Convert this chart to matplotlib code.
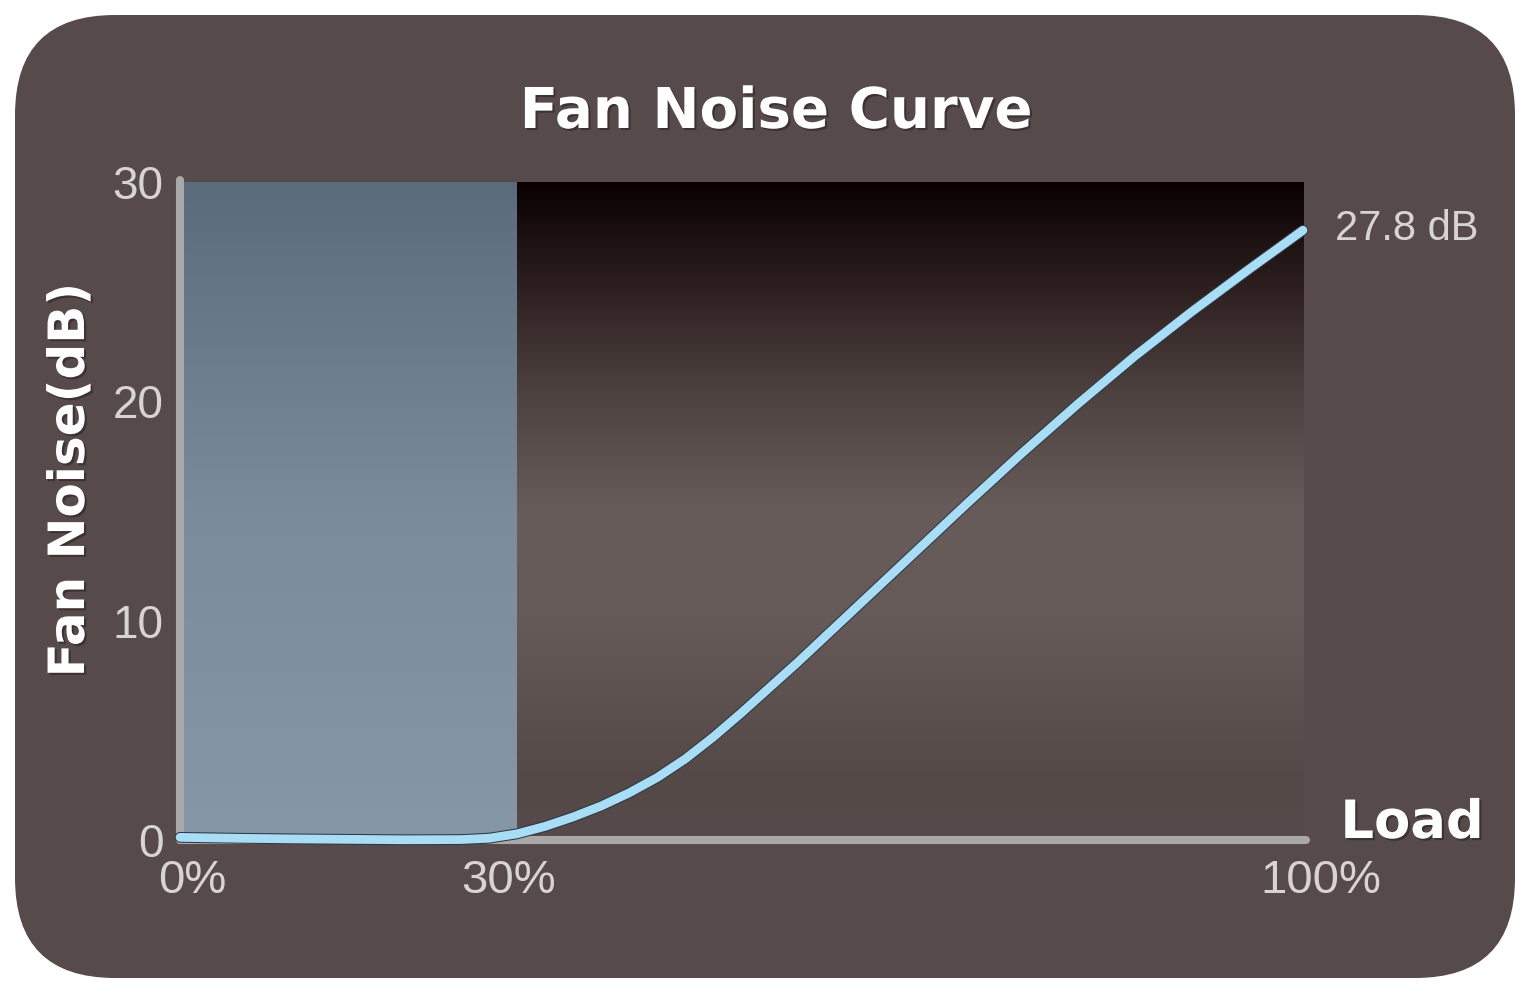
import numpy as np
import matplotlib
matplotlib.use("Agg")
import matplotlib.pyplot as plt
from matplotlib.patches import FancyBboxPatch
from matplotlib.colors import LinearSegmentedColormap
import matplotlib.patheffects as pe

# ---------------- data ----------------
load_pct = [0, 5, 10, 15, 20, 25, 27.5, 30, 32.5, 35, 37.5, 40, 42.5, 45, 47.5, 50,
            55, 60, 65, 70, 75, 80, 85, 90, 95, 100]
noise_db = [0.12, 0.08, 0.05, 0.03, 0.01, 0.02, 0.08, 0.28, 0.62, 1.05, 1.55, 2.15, 2.85,
            3.7, 4.7, 5.8, 8.1, 10.5, 12.9, 15.3, 17.65, 19.9, 22.05, 24.05, 25.95, 27.8]
quiet_zone = [0, 30]
x_ticks = [0, 30, 100]
x_tick_labels = ["0%", "30%", "100%"]
y_ticks = [0, 10, 20, 30]
y_tick_labels = ["0", "10", "20", "30"]
title = "Fan Noise Curve"
ylabel = "Fan Noise(dB)"
xlabel = "Load"

# ---------------- style ----------------
W, H = 1530, 994
BG = "#564a4a"
TXT = "#d9d4d4"
fig = plt.figure(figsize=(W / 100, H / 100), dpi=100)
fig.patch.set_facecolor("white")

bg = fig.add_axes([0, 0, 1, 1], zorder=-5)
bg.set_xlim(0, W)
bg.set_ylim(H, 0)
bg.axis("off")
bg.add_patch(FancyBboxPatch((15, 15), 1500, 963,
                            boxstyle="round,pad=0,rounding_size=100",
                            facecolor=BG, edgecolor="none"))

left, right = 180 / W, 1303 / W
bottom, top = (H - 840) / H, (H - 182) / H
ax = fig.add_axes([left, bottom, right - left, top - bottom])
ax.set_facecolor("none")
ax.set_xlim(0, 100)
ax.set_ylim(0, 30)

# dark gradient region (30%..100%)
dark_cmap = LinearSegmentedColormap.from_list(
    "dark", [(0.0, "#564a4a"), (0.09, "#554948"), (0.33, "#655a58"),
             (0.5, "#675c5a"), (0.67, "#4f4342"), (0.83, "#2f2121"),
             (1.0, "#0a0000")])
grad = np.linspace(0, 1, 256).reshape(-1, 1)
ax.imshow(grad, cmap=dark_cmap, origin="lower", aspect="auto",
          extent=[quiet_zone[1], 100, 0, 30.1], zorder=0, interpolation="bicubic")

# blue quiet zone (0..30%)
blue_cmap = LinearSegmentedColormap.from_list(
    "blue", [(0.0, "#8697a5"), (0.5, "#7a8c9b"), (1.0, "#5a6b7c")])
ax.imshow(grad, cmap=blue_cmap, origin="lower", aspect="auto",
          extent=[quiet_zone[0], quiet_zone[1], 0, 30.1], zorder=0.5,
          interpolation="bicubic")

# spines
for s in ["top", "right"]:
    ax.spines[s].set_visible(False)
for s in ["left", "bottom"]:
    sp = ax.spines[s]
    sp.set_color("#a9a9a9")
    sp.set_linewidth(5.8)
    sp.set_capstyle("round")
    sp.set_zorder(2)
ax.spines["left"].set_bounds(0, 30.1)
ax.spines["bottom"].set_bounds(0, 100.3)

# curve
ax.plot(load_pct, noise_db, color="#a9dcf5", lw=6.3, solid_capstyle="round",
        solid_joinstyle="round", zorder=4, clip_on=False,
        path_effects=[pe.Stroke(linewidth=7.8, foreground="#2c3a44"), pe.Normal()])

# ticks
ax.set_yticks(y_ticks)
ax.set_yticklabels(y_tick_labels, fontsize=33, color=TXT, family="Liberation Sans")
ax.set_xticks([])
ax.tick_params(axis="y", length=0, pad=12)
x_offsets_pt = [9, -6, 13]
for xv, lab, dx in zip(x_ticks, x_tick_labels, x_offsets_pt):
    ax.annotate(lab, xy=(xv, 0), xytext=(dx, -14), textcoords="offset points",
                ha="center", va="top", fontsize=34, color=TXT,
                family="Liberation Sans", annotation_clip=False)

# end label
ax.annotate(f"{noise_db[-1]} dB", xy=(load_pct[-1], noise_db[-1]),
            xytext=(23, 1), textcoords="offset points", ha="left", va="center",
            fontsize=30, color=TXT, family="Liberation Sans", annotation_clip=False)

shadow = [pe.withSimplePatchShadow(offset=(1.5, -1.5), shadow_rgbFace="#2a2222", alpha=0.6)]
fig.text(776 / W, 1 - 113 / H, title, ha="center", va="center", fontsize=40.5,
         fontweight="bold", color="white", family="DejaVu Sans", path_effects=shadow)
fig.text(70 / W, 1 - 480 / H, ylabel, ha="center", va="center", rotation=90,
         fontsize=36, fontweight="bold", color="white", family="DejaVu Sans",
         path_effects=shadow)
fig.text(1412 / W, 1 - 823 / H, xlabel, ha="center", va="center", fontsize=38,
         fontweight="bold", color="white", family="DejaVu Sans", path_effects=shadow)

fig.savefig("out.png", dpi=100, facecolor="white")
